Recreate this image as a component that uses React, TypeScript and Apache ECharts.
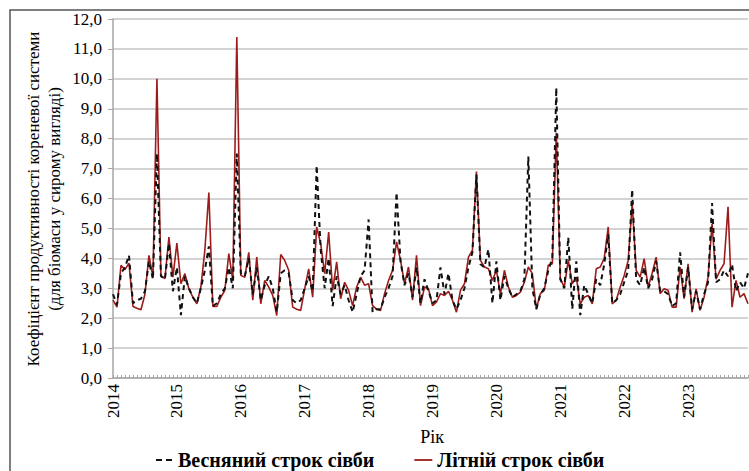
import React, { useEffect, useRef } from 'react';
import * as echarts from 'echarts';

const years = ['2014', '2015', '2016', '2017', '2018', '2019', '2020', '2021', '2022', '2023'];
const PER_YEAR = 16;

const springValues = [
  2.8, 2.45, 3.5, 3.7, 4.1, 2.5, 2.6, 2.65, 2.9, 3.9, 3.3, 7.5, 3.4, 3.3, 4.5, 2.9,
  3.7, 2.1, 3.4, 3.0, 2.7, 2.5, 3.0, 3.6, 4.4, 2.4, 2.5, 2.8, 3.0, 3.7, 3.0, 7.5,
  3.5, 3.4, 4.0, 2.8, 3.7, 2.6, 3.1, 3.4, 3.0, 2.2, 3.5, 3.6, 3.5, 2.6, 2.5, 2.6,
  3.0, 3.4, 2.9, 7.1, 4.3, 3.0, 4.0, 2.4, 3.4, 2.8, 3.1, 2.6, 2.2, 2.8, 3.4, 3.6,
  5.3, 2.2, 2.3, 2.3, 2.7, 3.0, 3.4, 6.2, 3.9, 3.1, 3.5, 2.7, 3.7, 2.5, 3.3, 2.9,
  2.5, 2.6, 3.7, 2.8, 3.5, 2.6, 2.3, 2.6, 3.0, 3.7, 4.2, 6.8, 3.8, 3.7, 4.3, 2.5,
  3.9, 2.6, 3.4, 3.0, 2.7, 2.8, 2.9, 3.3, 7.4, 3.0, 2.3, 2.8, 3.0, 3.6, 4.0, 9.7,
  3.3, 3.0, 4.7, 2.3, 3.9, 2.1, 3.1, 2.8, 2.5, 3.3, 3.1, 3.8, 4.8, 2.5, 2.6, 2.8,
  3.2, 3.6, 6.3, 3.3, 3.1, 3.7, 3.0, 3.3, 3.9, 2.9, 2.9, 2.8, 2.4, 2.5, 4.2, 2.7,
  3.7, 2.3, 2.9, 2.3, 2.8, 3.2, 5.85, 3.2, 3.3, 3.6, 3.4, 3.8, 2.9, 3.2, 3.0, 3.5,
];

const summerValues = [
  2.6, 2.37, 3.77, 3.62, 3.84, 2.39, 2.33, 2.28, 2.8, 4.1, 3.37, 10.0, 3.43, 3.32, 4.71, 3.37,
  4.51, 3.15, 3.49, 2.98, 2.7, 2.48, 3.04, 4.27, 6.2, 2.39, 2.39, 2.7, 2.93, 4.16, 3.26, 11.4,
  3.43, 3.37, 4.2, 2.6, 4.04, 2.48, 3.26, 3.04, 2.76, 2.09, 4.13, 3.93, 3.6, 2.37, 2.3, 2.26,
  2.98, 3.65, 2.7, 5.05, 4.49, 3.49, 4.88, 2.93, 3.88, 2.65, 3.2, 2.93, 2.42, 3.04, 3.37, 3.1,
  3.15, 2.42, 2.3, 2.26, 2.82, 3.26, 3.6, 4.55, 3.93, 3.15, 3.71, 2.6, 4.1, 2.42, 3.04, 2.98,
  2.42, 2.54, 2.82, 2.76, 2.9, 2.6, 2.2, 2.93, 3.15, 4.04, 4.27, 6.9, 3.93, 3.71, 3.65, 3.26,
  3.6, 2.8, 3.6, 3.04, 2.7, 2.76, 2.87, 3.2, 3.71, 3.49, 2.31, 2.82, 2.93, 3.77, 3.82, 8.2,
  3.32, 3.04, 3.93, 3.15, 3.37, 2.48, 2.7, 2.76, 2.48, 3.65, 3.71, 4.0, 5.05, 2.48, 2.6, 3.04,
  3.43, 3.93, 5.83, 3.6, 3.37, 3.99, 3.04, 3.5, 4.04, 2.82, 2.98, 2.93, 2.37, 2.37, 3.71, 2.65,
  3.82, 2.2, 2.98, 2.26, 2.7, 3.37, 5.16, 3.3, 3.6, 3.82, 5.72, 2.37, 3.26, 2.7, 2.82, 2.48,
];

const seriesNames = ['Весняний строк сівби', 'Літній строк сівби'];
const yTitleLines = ['Коефіцієнт продуктивності кореневої системи', '(для біомаси у сирому вигляді)'];
const xTitle = 'Рік';

const FONT = 'Liberation Serif';

export default function App() {
  const ref = useRef<HTMLDivElement>(null);

  useEffect(() => {
    if (!ref.current) return;
    const chart = echarts.init(ref.current, null, { renderer: 'svg' });
    const categories: string[] = [];
    years.forEach((y) => {
      for (let k = 0; k < PER_YEAR; k++) categories.push(`${y}-${k + 1}`);
    });

    chart.setOption({
      animation: false,
      backgroundColor: '#ffffff',
      textStyle: { fontFamily: FONT },
      grid: { left: 113, right: 1, top: 19, bottom: 93, containLabel: false },
      xAxis: {
        type: 'category',
        data: categories,
        boundaryGap: false,
        axisLine: { show: true, lineStyle: { color: '#a6a6a6', width: 1.5 } },
        axisTick: { show: true, interval: 0, length: 3, inside: true, lineStyle: { color: '#a6a6a6', width: 1 } },
        axisLabel: {
          interval: (index: number) => index % PER_YEAR === 0,
          formatter: (v: string) => v.split('-')[0],
          rotate: 90,
          margin: 6,
          color: '#000',
          fontSize: 17,
          fontFamily: FONT,
        },
        splitLine: { show: false },
      },
      yAxis: {
        type: 'value',
        min: 0,
        max: 12,
        interval: 1,
        axisLine: { show: true, lineStyle: { color: '#a6a6a6', width: 1.5 } },
        axisTick: { show: true, length: 5, lineStyle: { color: '#a6a6a6' } },
        axisLabel: {
          formatter: (v: number) => v.toFixed(1).replace('.', ','),
          color: '#000',
          fontSize: 17,
          fontFamily: FONT,
          margin: 11,
        },
        splitLine: { show: true, lineStyle: { color: '#c4c4c4', width: 1.5 } },
      },
      legend: {
        data: [
          { name: seriesNames[0], icon: 'path://M0,0h6v2h-6zM10,0h6v2h-6z' },
          { name: seriesNames[1], icon: 'path://M0,0h20v2h-20z' },
        ],
        left: 151,
        top: 445,
        itemWidth: 18,
        itemHeight: 2,
        itemGap: 40,
        textStyle: { color: '#000', fontSize: 20, fontWeight: 'bold', fontFamily: FONT },
      },
      graphic: [
        {
          type: 'rect',
          shape: { x: 10, y: 10, width: 800, height: 500 },
          style: { fill: 'none', stroke: '#555', lineWidth: 1.5 },
          silent: true,
        },
        {
          type: 'text',
          x: 33,
          y: 199,
          rotation: Math.PI / 2,
          style: {
            text: yTitleLines[0],
            fontSize: 17,
            fontFamily: FONT,
            fill: '#000',
            textAlign: 'center',
            textVerticalAlign: 'middle',
          },
        },
        {
          type: 'text',
          x: 54,
          y: 199,
          rotation: Math.PI / 2,
          style: {
            text: yTitleLines[1],
            fontSize: 17,
            fontFamily: FONT,
            fill: '#000',
            textAlign: 'center',
            textVerticalAlign: 'middle',
          },
        },
        {
          type: 'text',
          x: 432,
          y: 437,
          style: {
            text: xTitle,
            fontSize: 18,
            fontFamily: FONT,
            fill: '#000',
            textAlign: 'center',
            textVerticalAlign: 'middle',
          },
        },
      ],
      series: [
        {
          name: seriesNames[1],
          type: 'line',
          data: summerValues,
          symbol: 'none',
          z: 2,
          lineStyle: { color: '#9c1c1c', width: 1.6 },
          itemStyle: { color: '#9c1c1c' },
        },
        {
          name: seriesNames[0],
          type: 'line',
          data: springValues,
          symbol: 'none',
          z: 3,
          lineStyle: { color: '#111', width: 2, type: [5, 4] },
          itemStyle: { color: '#111' },
        },
      ],
    });
    return () => chart.dispose();
  }, []);

  return (
    <div
      ref={ref}
      style={{ position: 'fixed', left: 0, top: 0, width: 749, height: 471, background: '#fff' }}
    />
  );
}
